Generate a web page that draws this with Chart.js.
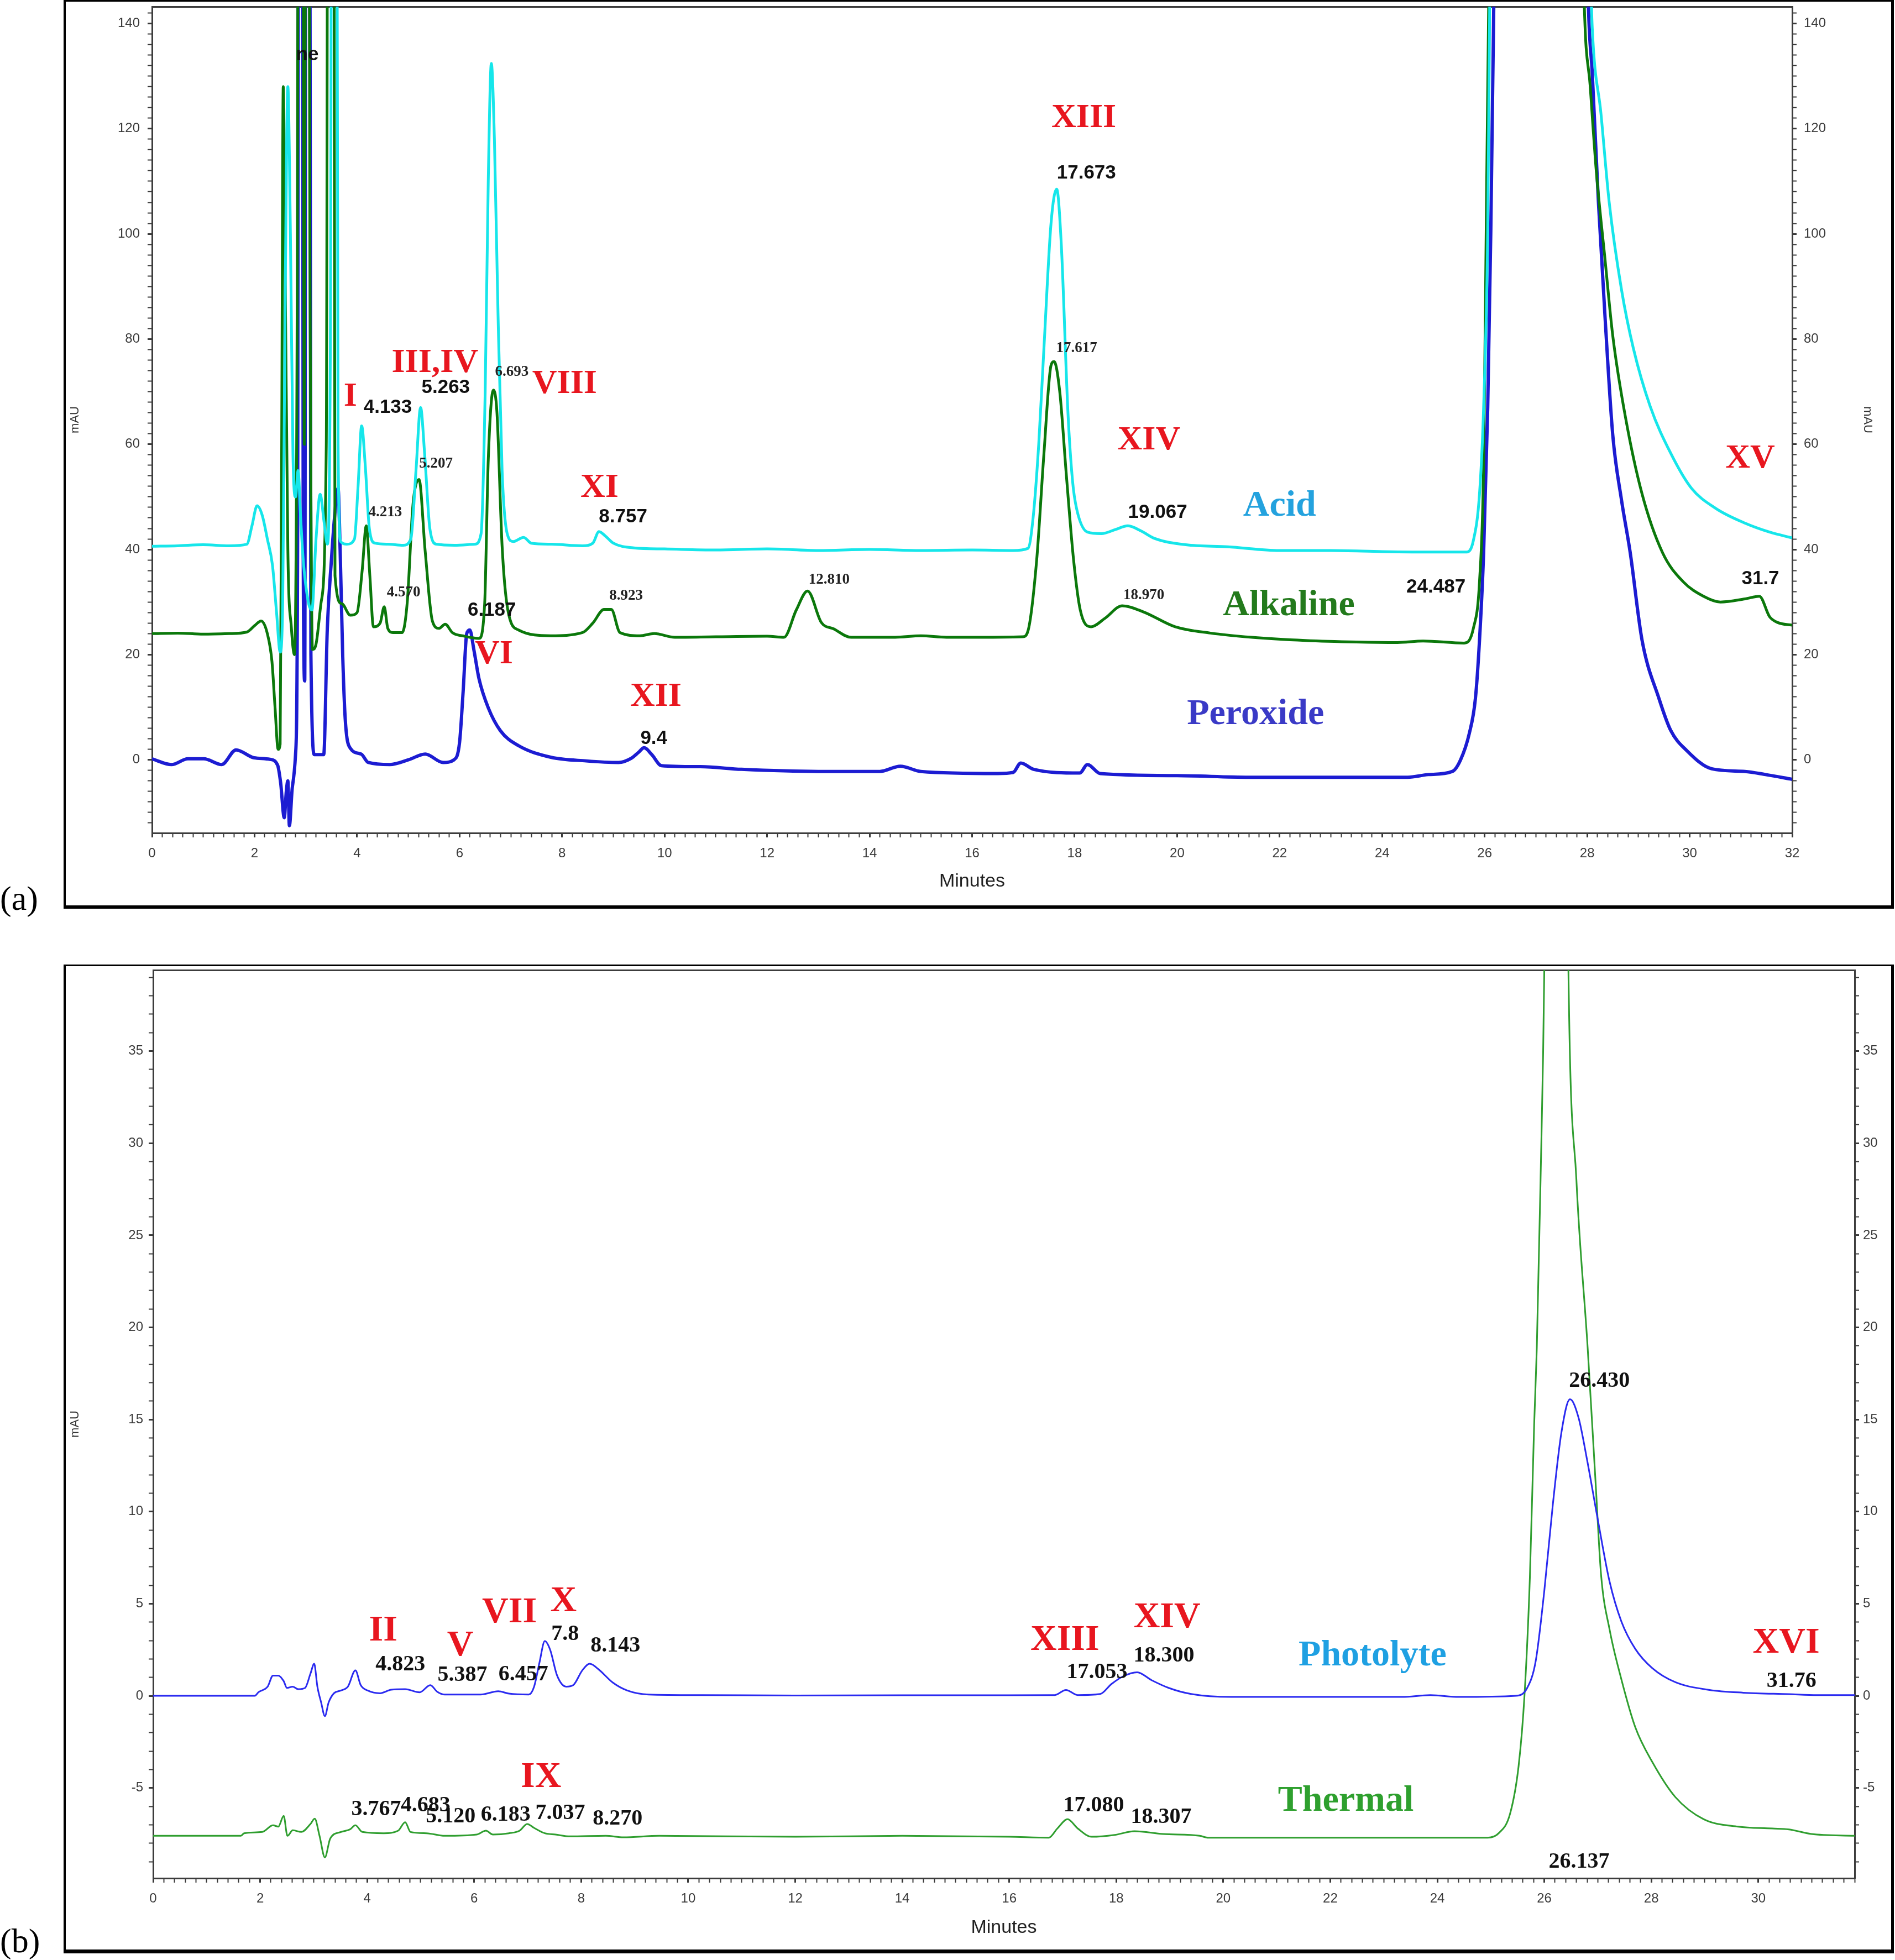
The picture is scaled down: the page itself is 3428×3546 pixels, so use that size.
<!DOCTYPE html>
<html>
<head>
<meta charset="utf-8">
<title>HPLC forced degradation chromatograms</title>
<script src="https://cdn.jsdelivr.net/npm/chart.js@4.4.0/dist/chart.umd.min.js"></script>
<style>
  html, body { margin: 0; padding: 0; background: #fff; }
  body { position: relative; width: 3428px; height: 3546px; overflow: hidden; }
  .frame { position: absolute; box-sizing: border-box; border-style: solid; border-color: #000; }
  #frameA { left: 115px; top: 0; width: 3311px; height: 1644px; border-width: 3px 5px 6px 4px; }
  #frameB { left: 115px; top: 1745px; width: 3311px; height: 1789px; border-width: 3px 5px 7px 4px; }
  canvas { position: absolute; }
  #chartA { left: 119px; top: 3px; }
  #chartB { left: 119px; top: 1748px; }
  .tag { position: absolute; left: 0; font-family: 'Liberation Serif', 'Times New Roman', serif; font-size: 62px; line-height: 1; color: #000; }
</style>
</head>
<body>
<div class="frame" id="frameA"></div>
<div class="frame" id="frameB"></div>
<canvas id="chartA" width="3300" height="1634"></canvas>
<canvas id="chartB" width="3300" height="1782"></canvas>
<div class="tag" style="top:1594px">(a)</div>
<div class="tag" style="top:3480px">(b)</div>
<script>
// traces: [retention time (min), signal (mAU)]
const acidTrace = [
  [0, 40.6], [0.5, 40.7], [1.0, 40.9], [1.5, 40.7], [1.85, 41.0], [1.95, 44.5], [2.05, 48.3], [2.15, 46.5],
  [2.25, 42], [2.35, 37], [2.43, 28], [2.5, 20.5], [2.55, 30], [2.6, 90], [2.65, 128], [2.7, 100],
  [2.75, 58], [2.8, 50], [2.85, 55], [2.9, 46], [2.95, 38], [3.05, 30], [3.12, 28.5], [3.2, 42],
  [3.28, 50.5], [3.36, 45], [3.42, 41], [3.48, 80], [3.53, 300], [3.58, 300], [3.63, 60], [3.68, 41.5],
  [3.8, 41], [3.95, 42], [4.02, 52], [4.09, 63.5], [4.16, 56], [4.24, 44], [4.35, 41.2], [4.6, 41],
  [4.9, 40.8], [5.05, 42], [5.15, 55], [5.24, 67], [5.32, 58], [5.42, 44], [5.55, 41], [5.9, 40.8],
  [6.3, 41], [6.42, 43], [6.5, 70], [6.56, 110], [6.62, 132.4], [6.68, 118], [6.75, 85], [6.83, 55],
  [6.93, 43], [7.05, 41.5], [7.25, 42.3], [7.4, 41.2], [7.8, 41], [8.4, 40.7], [8.6, 41.2], [8.72, 43.4],
  [8.85, 42.5], [9.0, 41.2], [9.4, 40.3], [10, 40.1], [11, 39.9], [12, 40.1], [13, 39.8], [14, 40.0],
  [15, 39.8], [16, 39.9], [16.8, 39.8], [17.09, 40.2], [17.19, 46], [17.3, 60], [17.4, 78], [17.54, 102],
  [17.65, 108.5], [17.74, 98], [17.87, 66], [17.96, 53], [18.04, 47.7], [18.25, 43.3], [18.52, 43],
  [18.8, 43.8], [19.04, 44.5], [19.3, 43.5], [19.56, 42.1], [20.17, 40.9], [20.99, 40.5], [22, 39.8],
  [23, 39.8], [24, 39.6], [25, 39.5], [25.65, 39.5], [25.78, 41.7], [25.9, 50.6], [25.98, 67],
  [26.06, 100.5], [26.1, 145], [26.5, 400], [27.6, 400], [28.08, 145], [28.1, 139], [28.27, 122.8],
  [28.43, 106], [28.67, 89.4], [28.9, 78.3], [29.23, 67.2], [29.63, 58.3], [30.03, 51.7], [30.51, 47.8],
  [31.08, 45], [31.56, 43.3], [32, 42.2]
];

const alkalineTrace = [
  [0, 24], [0.5, 24.1], [1.0, 23.9], [1.5, 24.0], [1.85, 24.3], [2.0, 25.5], [2.13, 26.4], [2.25, 24],
  [2.34, 18.7], [2.4, 10], [2.46, 2], [2.5, 3], [2.53, 60], [2.56, 128], [2.6, 90], [2.65, 40],
  [2.72, 25], [2.78, 20], [2.83, 80], [2.88, 300], [2.93, 300], [2.97, 60], [3.0, 200], [3.03, 300],
  [3.08, 100], [3.13, 21], [3.2, 22], [3.3, 30], [3.4, 60], [3.45, 300], [3.53, 300], [3.57, 35],
  [3.7, 29.7], [3.87, 27.5], [4.0, 28], [4.1, 36], [4.18, 44.5], [4.25, 35], [4.32, 25.3], [4.45, 26],
  [4.53, 29.1], [4.6, 25], [4.7, 24.2], [4.88, 24.2], [4.98, 30], [5.09, 48.4], [5.21, 53.3],
  [5.33, 39.6], [5.47, 26.4], [5.6, 25], [5.72, 25.8], [5.86, 24.2], [6.1, 23.5], [6.38, 23.1],
  [6.49, 29.7], [6.56, 57], [6.66, 70.3], [6.73, 66], [6.83, 40.7], [6.94, 28.6], [7.15, 24.7],
  [7.78, 23.6], [8.4, 24.2], [8.6, 26], [8.82, 28.6], [8.96, 28.6], [9.13, 24.2], [9.52, 23.6],
  [9.8, 24.0], [10.2, 23.3], [11, 23.4], [12, 23.5], [12.33, 23.3], [12.57, 28.5], [12.79, 32.1],
  [13.06, 26.1], [13.3, 24.9], [13.64, 23.3], [14.5, 23.3], [15.0, 23.6], [15.5, 23.3], [16.2, 23.3],
  [16.99, 23.4], [17.09, 24.5], [17.26, 38], [17.4, 58], [17.54, 75], [17.6, 75.7], [17.71, 70],
  [17.84, 54], [17.98, 38], [18.11, 28.5], [18.32, 25.3], [18.59, 26.9], [18.93, 29.3], [19.35, 28.1],
  [19.96, 25.3], [20.65, 24.1], [21.46, 23.3], [22.5, 22.7], [23.5, 22.4], [24.3, 22.3], [24.8, 22.6],
  [25.6, 22.2], [25.78, 25], [25.9, 33.9], [25.98, 56], [26.03, 100.5], [26.08, 145], [26.5, 400],
  [27.5, 400], [27.94, 145], [28.06, 128], [28.18, 111.7], [28.35, 95], [28.5, 80.6], [28.75, 65],
  [29.07, 50.6], [29.47, 39.4], [29.87, 33.9], [30.27, 31.1], [30.6, 30], [31.08, 30.6], [31.36, 31.1],
  [31.56, 27.2], [31.72, 26.1], [32, 25.6]
];

const peroxideTrace = [
  [0, 0.2], [0.38, -0.9], [0.7, 0.2], [1.01, 0.2], [1.36, -0.9], [1.64, 1.9], [1.99, 0.4], [2.3, 0.1],
  [2.45, -1], [2.51, -4.4], [2.58, -11], [2.62, -6], [2.65, -4], [2.68, -12.5], [2.74, -5], [2.8, 1],
  [2.84, 40], [2.87, 300], [2.92, 300], [2.95, 40], [2.98, 15], [3.01, 300], [3.06, 300], [3.1, 20],
  [3.17, 1], [3.35, 1], [3.42, 25], [3.5, 38], [3.56, 46], [3.63, 51.6], [3.67, 40], [3.72, 20],
  [3.77, 7.7], [3.87, 2.2], [4.08, 1.1], [4.22, -0.5], [4.64, -0.9], [5.0, 0], [5.33, 1.1], [5.68, -0.5],
  [5.89, 0], [6.0, 3.3], [6.07, 13], [6.14, 24], [6.2, 24.7], [6.28, 20.9], [6.38, 15.4], [6.56, 9.9],
  [6.8, 5.5], [7.15, 2.7], [7.78, 0.5], [8.47, -0.2], [9.1, -0.5], [9.35, 0.3], [9.5, 1.5], [9.6, 2.3],
  [9.75, 1.0], [9.94, -1.1], [10.7, -1.3], [11.5, -1.8], [13, -2.2], [14.2, -2.2], [14.6, -1.2],
  [15.0, -2.2], [16.5, -2.6], [16.8, -2.4], [16.95, -0.6], [17.2, -1.8], [18.1, -2.5], [18.25, -0.9],
  [18.5, -2.6], [20, -3.0], [21.4, -3.3], [22.5, -3.3], [24.5, -3.3], [24.9, -2.8], [25.37, -2.2],
  [25.53, 0], [25.7, 5], [25.82, 11.7], [25.9, 22.8], [25.98, 39.4], [26.06, 67], [26.12, 100.5],
  [26.18, 145], [26.6, 400], [27.6, 400], [28.02, 145], [28.1, 130.5], [28.22, 106], [28.35, 84],
  [28.5, 61.7], [28.67, 49.4], [28.84, 39.4], [29.07, 22.8], [29.4, 11.7], [29.63, 5.6], [29.95, 1.7],
  [30.43, -1.7], [31.08, -2.2], [31.48, -2.8], [32, -3.7]
];

const photolyteTrace = [
  [0, 0], [1.9, 0], [1.97, 0.2], [2.14, 0.5], [2.24, 1.1], [2.34, 1.1], [2.44, 0.8], [2.5, 0.43],
  [2.61, 0.5], [2.71, 0.36], [2.84, 0.43], [2.94, 1.2], [3.01, 1.74], [3.07, 0.5], [3.14, -0.36],
  [3.21, -1.1], [3.28, -0.36], [3.38, 0.14], [3.51, 0.29], [3.64, 0.5], [3.78, 1.38], [3.88, 0.58],
  [4.01, 0.29], [4.24, 0.14], [4.45, 0.33], [4.71, 0.36], [4.98, 0.19], [5.18, 0.58], [5.31, 0.22],
  [5.45, 0.07], [6.12, 0.07], [6.45, 0.25], [6.65, 0.12], [7.02, 0.07], [7.12, 0.5], [7.22, 1.8],
  [7.32, 2.97], [7.42, 2.5], [7.55, 1.1], [7.72, 0.5], [7.85, 0.58], [8.02, 1.38], [8.16, 1.74],
  [8.32, 1.45], [8.59, 0.72], [8.86, 0.29], [9.26, 0.07], [10.25, 0.04], [12, 0.02], [14, 0.03],
  [16, 0.03], [16.85, 0.04], [17.06, 0.32], [17.28, 0.04], [17.7, 0.1], [17.91, 0.64], [18.13, 1.06],
  [18.39, 1.28], [18.66, 0.85], [18.98, 0.43], [19.4, 0.1], [20.15, -0.06], [23.34, -0.06],
  [23.87, 0.04], [24.4, -0.06], [25.47, 0], [25.68, 0.43], [25.84, 1.9], [26.0, 5.7], [26.16, 10.4],
  [26.32, 14.3], [26.48, 16.1], [26.64, 15.1], [26.8, 12.8], [27.01, 9.4], [27.22, 6.2], [27.44, 4.04],
  [27.7, 2.55], [28.02, 1.5], [28.45, 0.74], [29.09, 0.32], [29.72, 0.17], [30.57, 0.09], [31.1, 0.04],
  [31.8, 0.04]
];

const thermalTrace = [
  [0, -7.6], [1.64, -7.6], [1.7, -7.46], [2.04, -7.39], [2.24, -7.03], [2.34, -7.1], [2.44, -6.52],
  [2.51, -7.6], [2.61, -7.3], [2.77, -7.39], [2.94, -6.96], [3.02, -6.67], [3.11, -7.6], [3.21, -8.77],
  [3.31, -7.75], [3.51, -7.39], [3.68, -7.25], [3.78, -7.03], [3.91, -7.39], [4.31, -7.46], [4.58, -7.32],
  [4.71, -6.86], [4.81, -7.39], [5.11, -7.46], [5.45, -7.6], [6.05, -7.53], [6.22, -7.32], [6.35, -7.53],
  [6.65, -7.46], [6.85, -7.32], [6.99, -6.96], [7.12, -7.17], [7.32, -7.46], [7.52, -7.53], [7.79, -7.63],
  [8.46, -7.6], [8.79, -7.68], [9.46, -7.6], [12, -7.65], [14, -7.6], [16, -7.65], [16.74, -7.7],
  [16.9, -7.2], [17.09, -6.7], [17.28, -7.2], [17.54, -7.65], [17.97, -7.55], [18.34, -7.35],
  [18.87, -7.5], [19.56, -7.6], [19.72, -7.7], [24.94, -7.7], [25.15, -7.45], [25.36, -6.4],
  [25.52, -3.8], [25.63, 0.04], [25.73, 6.4], [25.81, 14.7], [25.86, 18.9], [25.93, 28], [26.0, 39.5],
  [26.14, 90], [26.3, 90], [26.45, 39.5], [26.6, 28], [26.81, 18.9], [26.96, 11.5], [27.06, 6.6],
  [27.22, 3.6], [27.44, 0.9], [27.7, -1.7], [28.02, -3.6], [28.45, -5.5], [28.98, -6.7], [29.62, -7.1],
  [30.26, -7.2], [30.57, -7.25], [30.99, -7.5], [31.8, -7.6]
];

// tick labels
const minuteLabelsA = [0, 2, 4, 6, 8, 10, 12, 14, 16, 18, 20, 22, 24, 26, 28, 30, 32];
const mauLabelsA = [0, 20, 40, 60, 80, 100, 120, 140];
const minuteLabelsB = [0, 2, 4, 6, 8, 10, 12, 14, 16, 18, 20, 22, 24, 26, 28, 30];
const mauLabelsB = [-5, 0, 5, 10, 15, 20, 25, 30, 35];

// peak annotations: [text, time, mAU]
const degradantsA = [
  ['I', 3.87, 69], ['III,IV', 5.52, 75.4], ['VIII', 8.05, 71.4], ['VI', 6.67, 20], ['XI', 8.73, 51.7],
  ['XII', 9.83, 11.9], ['XIII', 18.18, 122], ['XIV', 19.45, 60.7], ['XV', 31.18, 57.2]
];
const retentionA = [
  ['4.133', 4.6, 67], ['5.263', 5.73, 70.8], ['6.187', 6.63, 28.4], ['8.757', 9.19, 46.2], ['9.4', 9.79, 4],
  ['17.673', 18.23, 111.5], ['19.067', 19.62, 47], ['24.487', 25.05, 32.8], ['31.7', 31.38, 34.4], ['ne', 3.03, 134]
];
const retentionSmallA = [
  ['4.213', 4.55, 47], ['5.207', 5.54, 56.3], ['4.570', 4.91, 31.8], ['6.693', 7.02, 73.7], ['8.923', 9.25, 31.2],
  ['12.810', 13.21, 34.2], ['17.617', 18.04, 78.3], ['18.970', 19.35, 31.3]
];
const degradantsB = [
  ['II', 4.3, 3.5], ['V', 5.74, 2.7], ['VII', 6.66, 4.5], ['X', 7.67, 5.1], ['XIII', 17.04, 3.0],
  ['XIV', 18.95, 4.22], ['XVI', 30.52, 2.86], ['IX', 7.25, -4.45]
];
const retentionB = [
  ['4.823', 4.62, 1.7], ['5.387', 5.78, 1.13], ['6.457', 6.92, 1.16], ['7.8', 7.7, 3.35], ['8.143', 8.64, 2.7],
  ['17.053', 17.64, 1.28], ['18.300', 18.89, 2.17], ['26.430', 27.03, 17.1], ['31.76', 30.62, 0.79],
  ['3.767', 4.17, -6.17], ['4.683', 5.09, -5.95], ['5.120', 5.56, -6.57], ['6.183', 6.59, -6.47],
  ['7.037', 7.61, -6.38], ['8.270', 8.68, -6.67], ['17.080', 17.58, -5.95], ['18.307', 18.84, -6.6],
  ['26.137', 26.65, -9.02]
];
const seriesNamesA = { acid: ['Acid', 22.0, 48.2], alkaline: ['Alkaline', 22.18, 29.3], peroxide: ['Peroxide', 21.53, 8.6] };
const seriesNamesB = { photolyte: ['Photolyte', 22.79, 2.17], thermal: ['Thermal', 22.29, -5.74] };

const SANS = "'Liberation Sans', Arial, sans-serif";
const SERIF = "'Liberation Serif', 'Times New Roman', serif";
const TICK = '#3a3a3a';
const AXIS = '#3c3c3c';
const RED = '#e8161f';
const INK = '#111';

const toPoints = (trace) => trace.map(([t, v]) => ({ x: t, y: v }));

function trace(label, data, color, width) {
  return {
    label,
    data: toPoints(data),
    borderColor: color,
    borderWidth: width,
    pointRadius: 0,
    fill: false,
    cubicInterpolationMode: 'monotone'
  };
}

function textLayer(id, groups) {
  return {
    id,
    afterDatasetsDraw(chart) {
      const { ctx, scales } = chart;
      ctx.save();
      ctx.textAlign = 'center';
      ctx.textBaseline = 'middle';
      groups.forEach((g) => {
        ctx.font = g.font;
        ctx.fillStyle = g.color;
        g.items.forEach(([text, t, v]) => {
          ctx.fillText(text, scales.x.getPixelForValue(t), scales.y.getPixelForValue(v));
        });
      });
      ctx.restore();
    }
  };
}

function labelFrom(list) {
  return (v) => {
    const r = Math.round(v * 10) / 10;
    return list.includes(r) ? String(r) : '';
  };
}

// fixed box sizes so the plot area lands where the original frame is
function pinBox(size) {
  return (s) => {
    if (s.isHorizontal()) s.height = size; else s.width = size;
    s.paddingTop = 0;
    s.paddingBottom = 0;
    s.paddingLeft = 0;
    s.paddingRight = 0;
  };
}

function axes(o) {
  const tickFont = { family: SANS, size: 24 };
  const major = (list) => (c) => (c.tick && list.includes(Math.round(c.tick.value * 10) / 10) ? 3 : 2);
  const sideY = (position, width, pad, title) => ({
    type: 'linear',
    position,
    min: o.yMin,
    max: o.yMax,
    ticks: {
      stepSize: o.yStep, autoSkip: false, includeBounds: false, padding: pad,
      color: TICK, font: tickFont, callback: labelFrom(o.yLabels)
    },
    grid: { drawOnChartArea: false, tickLength: 8, tickWidth: major(o.yLabels), tickColor: TICK },
    border: { color: AXIS, width: 3 },
    title: title
      ? { display: true, text: 'mAU', color: '#333', font: { family: SANS, size: 22 }, padding: { top: title, bottom: 0 } }
      : { display: false },
    afterFit: pinBox(width)
  });
  return {
    x: {
      type: 'linear',
      position: 'bottom',
      min: o.xMin,
      max: o.xMax,
      ticks: {
        stepSize: 0.2, autoSkip: false, maxRotation: 0, minRotation: 0, includeBounds: false,
        padding: 15, color: TICK, font: tickFont, callback: labelFrom(o.xLabels)
      },
      grid: { drawOnChartArea: false, tickLength: 8, tickWidth: major(o.xLabels), tickColor: TICK },
      border: { color: AXIS, width: 3 },
      title: {
        display: true, text: 'Minutes', color: '#222',
        font: { family: SANS, size: 34 }, padding: { top: 0, bottom: 22 }
      },
      afterFit: pinBox(o.bottom)
    },
    xTop: {
      type: 'linear',
      position: 'top',
      min: o.xMin,
      max: o.xMax,
      ticks: { display: false },
      grid: { drawOnChartArea: false, drawTicks: false },
      border: { color: AXIS, width: 3 },
      afterFit: pinBox(0)
    },
    y: sideY('left', o.left, o.leftPad, 4),
    y2: sideY('right', o.right, o.rightPad, o.rightTitle)
  };
}

const baseOptions = (scales, top) => ({
  responsive: false,
  animation: false,
  devicePixelRatio: 1,
  layout: { padding: { top, left: 0, right: 0, bottom: 0 } },
  plugins: { legend: { display: false }, tooltip: { enabled: false } },
  scales
});

const redFont = `bold 62px ${SERIF}`;
const nameFont = `bold 66px ${SERIF}`;

new Chart(document.getElementById('chartA'), {
  type: 'line',
  data: {
    datasets: [
      trace('Acid', acidTrace, '#16e6ea', 5),
      trace('Alkaline', alkalineTrace, '#0b780b', 5),
      trace('Peroxide', peroxideTrace, '#1c1cd2', 6)
    ]
  },
  options: baseOptions(axes({
    xMin: 0, xMax: 32, xLabels: minuteLabelsA,
    yMin: -13.9, yMax: 143.2, yStep: 2, yLabels: mauLabelsA,
    left: 156, right: 177, bottom: 130, leftPad: 14, rightPad: 13, rightTitle: 28
  }), 9),
  plugins: [textLayer('labelsA', [
    { font: redFont, color: RED, items: degradantsA },
    { font: `bold 35px ${SANS}`, color: INK, items: retentionA },
    { font: `bold 27px ${SERIF}`, color: '#222', items: retentionSmallA },
    { font: nameFont, color: '#24a2de', items: [seriesNamesA.acid] },
    { font: nameFont, color: '#237a1c', items: [seriesNamesA.alkaline] },
    { font: nameFont, color: '#3a3ac6', items: [seriesNamesA.peroxide] }
  ])]
});

new Chart(document.getElementById('chartB'), {
  type: 'line',
  data: {
    datasets: [
      trace('Photolyte', photolyteTrace, '#2a2af0', 3),
      trace('Thermal', thermalTrace, '#2f9e2f', 3)
    ]
  },
  options: baseOptions(axes({
    xMin: 0, xMax: 31.8, xLabels: minuteLabelsB,
    yMin: -9.9, yMax: 39.4, yStep: 1, yLabels: mauLabelsB,
    left: 158, right: 64, bottom: 132, leftPad: 10, rightPad: 7, rightTitle: 0
  }), 7),
  plugins: [textLayer('labelsB', [
    { font: `bold 66px ${SERIF}`, color: RED, items: degradantsB },
    { font: `bold 40px ${SERIF}`, color: INK, items: retentionB },
    { font: nameFont, color: '#1fa0e2', items: [seriesNamesB.photolyte] },
    { font: nameFont, color: '#2ea02e', items: [seriesNamesB.thermal] }
  ])]
});
</script>
</body>
</html>
